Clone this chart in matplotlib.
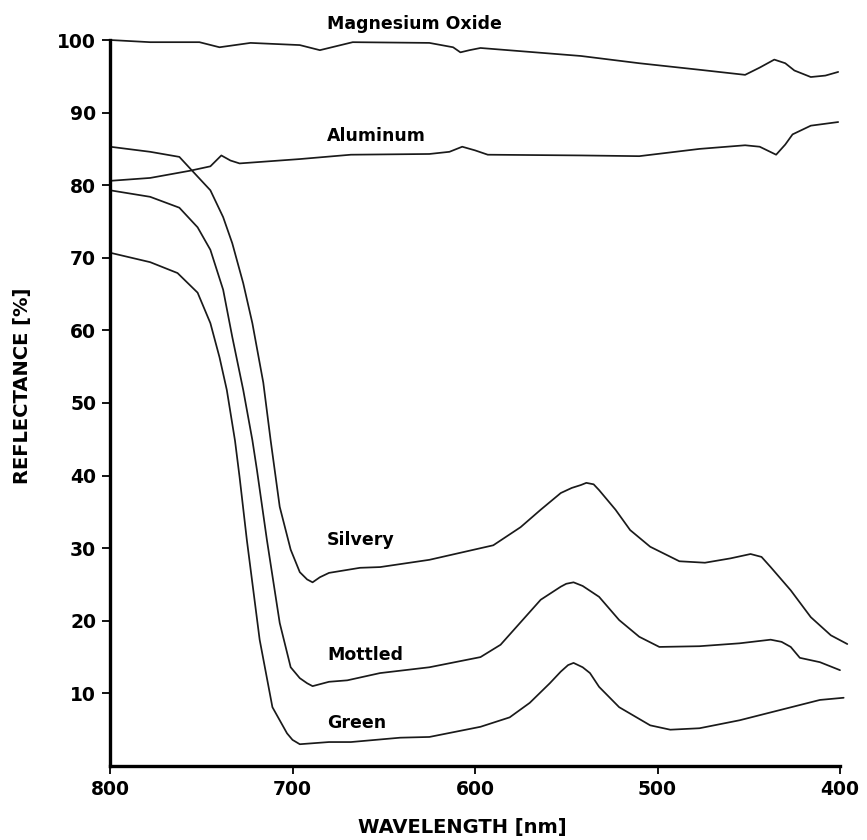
import matplotlib
matplotlib.use("Agg")
import matplotlib.pyplot as plt

# ---- data (wavelength nm, reflectance %) ----
mgo_wl = [800, 778, 751, 740, 723, 696, 685, 667, 625, 612, 608, 603, 597, 542, 510, 477, 452, 444, 436, 430, 425, 416, 408, 401]
mgo_r  = [100.0, 99.7, 99.7, 99.0, 99.6, 99.3, 98.6, 99.7, 99.6, 99.0, 98.3, 98.6, 98.9, 97.8, 96.8, 95.9, 95.2, 96.2, 97.3, 96.8, 95.8, 94.9, 95.1, 95.6]

al_wl = [800, 778, 756, 745, 739, 734, 729, 696, 668, 625, 614, 607, 600, 593, 542, 510, 477, 452, 444, 435, 430, 426, 416, 401]
al_r  = [80.6, 81.0, 82.0, 82.6, 84.1, 83.4, 83.0, 83.6, 84.2, 84.3, 84.6, 85.3, 84.8, 84.2, 84.1, 84.0, 85.0, 85.5, 85.3, 84.2, 85.6, 87.0, 88.2, 88.7]

silv_wl = [800, 778, 762, 755, 745, 738, 733, 727, 722, 716, 712, 707, 701, 696, 692, 689, 685, 680, 663, 652, 625,
           590, 575, 564, 553, 547, 542, 539, 535, 532, 523, 515, 504, 488, 474, 460, 449, 443, 438, 427, 416, 405, 396]
silv_r  = [85.3, 84.6, 83.9, 82.0, 79.3, 75.6, 72.0, 66.5, 61.0, 52.8, 44.9, 35.7, 29.8, 26.7, 25.7, 25.3, 26.0, 26.6, 27.3, 27.4, 28.4,
           30.4, 32.9, 35.3, 37.6, 38.3, 38.7, 39.0, 38.8, 38.0, 35.3, 32.5, 30.2, 28.2, 28.0, 28.6, 29.2, 28.8, 27.4, 24.2, 20.5, 18.0, 16.8]

mott_wl = [800, 778, 762, 752, 745, 738, 733, 727, 722, 719.5, 714, 707, 701, 696, 692, 689, 680, 670, 652, 625,
           597, 586, 575, 564, 553, 550, 546, 541, 532, 521, 510, 499, 477, 455, 438, 432, 427, 422, 411, 400]
mott_r  = [79.3, 78.4, 76.9, 74.2, 71.1, 65.6, 59.1, 51.8, 44.9, 40.8, 31.1, 19.7, 13.6, 12.1, 11.4, 11.0, 11.6, 11.8, 12.8, 13.6,
           15.0, 16.7, 19.8, 22.9, 24.7, 25.1, 25.3, 24.8, 23.3, 20.1, 17.8, 16.4, 16.5, 16.9, 17.4, 17.1, 16.4, 14.9, 14.3, 13.2]

green_wl = [800, 778, 763, 752, 745, 740, 736, 731.5, 729, 725, 718, 711, 703, 700, 696, 680, 668, 641, 625,
            597, 581, 570, 559, 553, 549, 546, 541, 537, 532, 521, 504, 493, 477, 455, 433, 411, 398]
green_r  = [70.7, 69.4, 67.9, 65.2, 61.0, 56.3, 51.8, 44.8, 39.8, 31.1, 17.4, 8.1, 4.5, 3.6, 3.0, 3.3, 3.3, 3.9, 4.0,
            5.4, 6.7, 8.7, 11.4, 13.0, 13.9, 14.2, 13.6, 12.8, 10.9, 8.1, 5.6, 5.0, 5.2, 6.3, 7.7, 9.1, 9.4]

labels = ["Magnesium Oxide", "Aluminum", "Silvery", "Mottled", "Green"]
label_y = [102.2, 86.8, 31.1, 15.3, 5.9]
label_x = 681

x_ticks = [800, 700, 600, 500, 400]
y_ticks = [10, 20, 30, 40, 50, 60, 70, 80, 90, 100]

# ---- figure ----
fig = plt.figure(figsize=(8.67, 8.40), dpi=100)
ax = fig.add_axes([110/867, 74/840, 730/867, 726/840])

lw = 1.25
col = "#1a1a1a"
for wl, r in [(mgo_wl, mgo_r), (al_wl, al_r), (silv_wl, silv_r), (mott_wl, mott_r), (green_wl, green_r)]:
    ax.plot(wl, r, color=col, lw=lw, clip_on=False, solid_capstyle="round", solid_joinstyle="round")

ax.set_xlim(800, 400)
ax.set_ylim(0, 100)

for s in ["top", "right"]:
    ax.spines[s].set_visible(False)
for s in ["left", "bottom"]:
    ax.spines[s].set_linewidth(2.4)
    ax.spines[s].set_color("black")

ax.set_xticks(x_ticks)
ax.set_yticks(y_ticks)
ax.set_xticklabels([str(v) for v in x_ticks], fontsize=13.5, fontweight="bold")
ax.set_yticklabels([str(v) for v in y_ticks], fontsize=13.5, fontweight="bold")
ax.tick_params(axis="both", direction="out", length=6, width=1.3, color="black", pad=4)

for t, y in zip(labels, label_y):
    ax.text(label_x, y, t, fontsize=12.5, fontweight="bold", ha="left", va="center", clip_on=False)

fig.text(462/867, 1 - 828/840, "WAVELENGTH [nm]", fontsize=14, fontweight="bold", ha="center", va="center")
fig.text(23/867, 1 - 386/840, "REFLECTANCE [%]", fontsize=14, fontweight="bold", ha="center", va="center",
         rotation=90)

fig.savefig("out.png", dpi=100, facecolor="white")
